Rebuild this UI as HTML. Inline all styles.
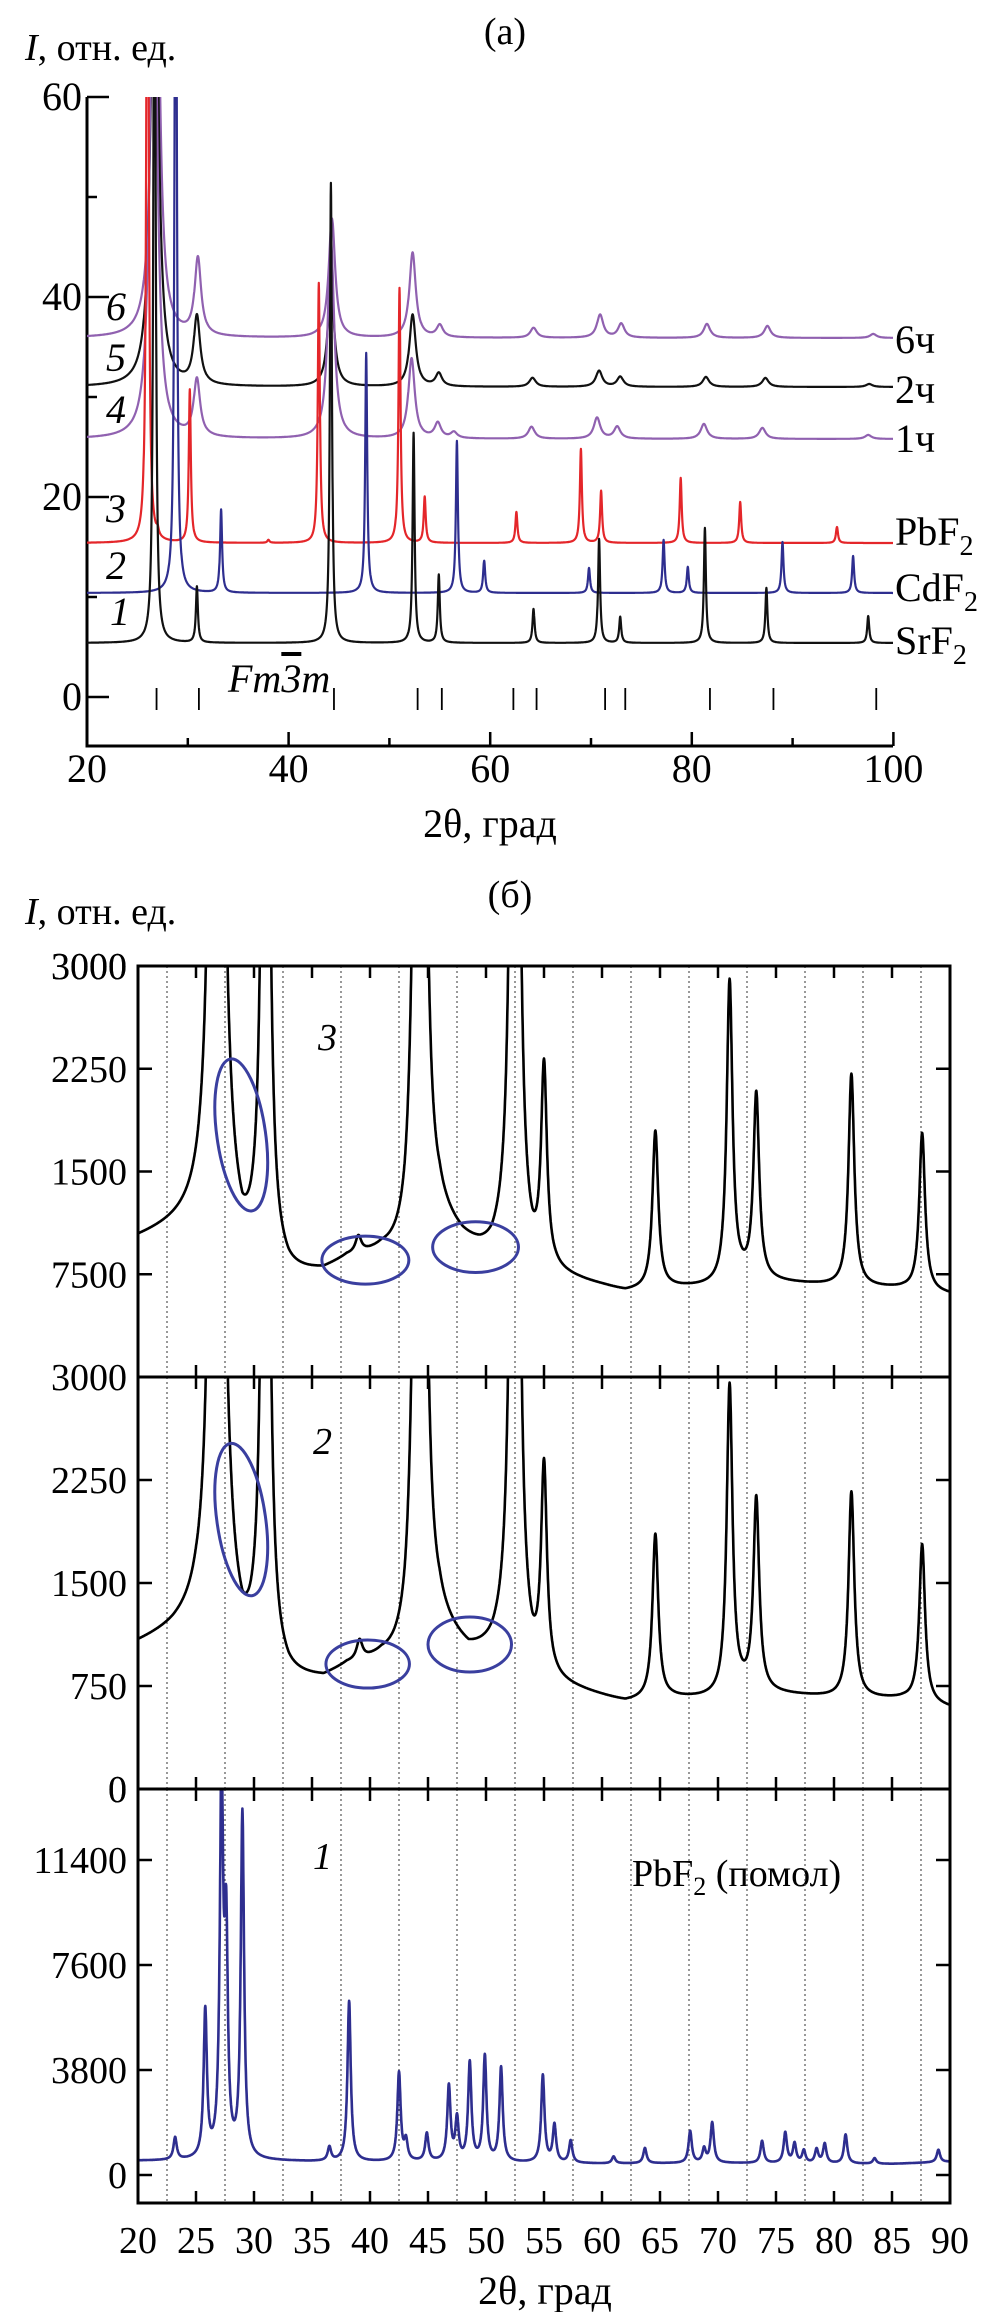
<!DOCTYPE html>
<html><head><meta charset="utf-8"><style>
html,body{margin:0;padding:0;background:#fff;}
svg{display:block;}
text{font-family:"Liberation Serif",serif;fill:#000;}
</style></head><body>
<svg id="svg" width="1004" height="2312" viewBox="0 0 1004 2312" xmlns="http://www.w3.org/2000/svg">
<defs>
<clipPath id="clipA"><rect x="87" y="97" width="806" height="649"/></clipPath>
<clipPath id="clipB3"><rect x="138" y="966" width="812" height="411"/></clipPath>
<clipPath id="clipB2"><rect x="138" y="1377" width="812" height="412"/></clipPath>
<clipPath id="clipB1"><rect x="138" y="1789" width="812" height="414"/></clipPath>
</defs>
<g id="panelA">
<text x="505" y="44" font-size="38" text-anchor="middle">(a)</text>
<text x="25" y="60" font-size="38"><tspan font-style="italic">I</tspan>, отн. ед.</text>
<text x="490" y="837" font-size="40" text-anchor="middle">2θ, град</text>
<text x="228" y="692" font-size="40" font-style="italic">Fm<tspan text-decoration="overline">3</tspan>m</text>
<g font-size="40">
<text x="895" y="353">6ч</text>
<text x="895" y="403">2ч</text>
<text x="895" y="452">1ч</text>
<text x="895" y="545">PbF<tspan font-size="28" dy="10">2</tspan></text>
<text x="895" y="601">CdF<tspan font-size="28" dy="10">2</tspan></text>
<text x="895" y="654">SrF<tspan font-size="28" dy="10">2</tspan></text>
</g>
<g font-size="40" font-style="italic">
<text x="106" y="320">6</text>
<text x="106" y="371">5</text>
<text x="106" y="423">4</text>
<text x="106" y="522">3</text>
<text x="106" y="579">2</text>
<text x="110" y="625">1</text>
</g>
</g>
<g id="panelB">
<text x="510" y="907" font-size="38" text-anchor="middle">(б)</text>
<text x="25" y="924" font-size="38"><tspan font-style="italic">I</tspan>, отн. ед.</text>
<text x="545" y="2304" font-size="40" text-anchor="middle">2θ, град</text>
<text x="318" y="1050" font-size="38" font-style="italic">3</text>
<text x="313" y="1454" font-size="38" font-style="italic">2</text>
<text x="313" y="1869" font-size="38" font-style="italic">1</text>
<text x="632" y="1886" font-size="38">PbF<tspan font-size="26" dy="9">2</tspan><tspan dy="-9"> (помол)</tspan></text>
</g>
</svg>
<script>
const NS='http://www.w3.org/2000/svg';
const svg=document.getElementById('svg');
// ---------- Panel (a) data ----------
const aYTicks=[0,20,40,60];
const aXTicks=[20,40,60,80,100];
const aSeriesNames=['SrF2','CdF2','PbF2','1h','2h','6h'];
const aBaselines=[5.4,10.4,15.4,25.8,31.0,35.9];
const aWidths=[0.12,0.12,0.12,0.38,0.38,0.38];
const aColors=['#111','#2e2e8f','#e4262a','#9061b0','#111','#9061b0'];
const aPosSrF2=[26.7,30.9,44.2,52.4,54.9,64.3,70.8,72.9,81.3,87.4,97.5];
const aHSrF2=[90,5.6,46,21,6.8,3.4,10.4,2.6,11.5,5.5,2.7];
const aPosCdF2=[28.8,33.3,47.7,56.7,59.4,69.8,77.2,79.6,89.0,96.0];
const aHCdF2=[90,8.3,24,15.2,3.2,2.5,5.3,2.6,5.1,3.7];
const aPosPbF2=[26.0,27.0,30.2,38.0,43.0,51.0,53.5,62.6,69.0,71.0,78.9,84.8,94.4];
const aHPbF2=[90,0.6,15.3,0.3,26,25.5,4.6,3.1,9.4,5.2,6.5,4.1,1.6];
const aPos1h=[26.6,30.9,44.2,52.2,54.8,56.4,64.1,70.6,72.6,81.2,87.0,97.5];
const aH1h=[60,5.7,20,8,1.5,0.6,1.2,2.1,1.2,1.5,1.1,0.4];
const aPos2h=[26.7,30.9,44.2,52.3,54.9,64.2,70.8,72.9,81.4,87.3,97.6];
const aH2h=[60,6.8,10,7.2,1.3,0.9,1.6,1.0,1.0,0.9,0.3];
const aPos6h=[26.8,31.0,44.3,52.3,55.0,64.3,70.9,73.0,81.5,87.5,98.0];
const aH6h=[60,7.7,11.9,8.5,1.2,1.0,2.3,1.4,1.4,1.2,0.4];
const aRefTicks=[26.9,31.1,44.5,52.8,55.2,62.3,64.6,71.4,73.4,81.8,88.1,98.3];
// ---------- Panel (б) data ----------
const bXTicks=[20,25,30,35,40,45,50,55,60,65,70,75,80,85,90];
const bGrid=[22.5,27.5,32.5,37.5,42.5,47.5,52.5,57.5,62.5,67.5,72.5,77.5,82.5,87.5];
const bTopTicks=[750,1500,2250,3000];
const bTopTickLabels=['7500','1500','2250','3000'];
const bMidTicks=[0,750,1500,2250,3000];
const bMidTickLabels=['0','750','1500','2250','3000'];
const bBotTicks=[0,3800,7600,11400];
const bBotTickLabels=['0','3800','7600','11400'];
const b3BgX=[20,24,26,28,29,30,33,36,38,41,43,45,46,48,49.5,50.5,52,54,56,60,62,66,70,72,76,80,86,90];
const b3BgY=[1000,1100,1150,1000,800,800,700,740,830,860,800,1000,1090,950,880,850,900,710,720,650,610,640,650,700,680,660,640,600];
const b3PeakPos=[26.8,31.0,39.0,44.3,52.5,55.0,64.6,71.0,73.3,81.5,87.6];
const b3PeakH=[20000,8000,120,15000,10000,1450,1150,2200,1350,1550,1150];
const b2BgX=[20,23,25,28,29,30,33,36,38,41,43,45,46,48.5,50.5,52,54,56,60,62,66,70,72,76,80,86,90];
const b2BgY=[1045,1130,1200,1100,900,880,760,770,860,900,850,1050,1120,950,950,1000,760,740,660,620,650,650,700,680,660,650,590];
const b2PeakPos=[26.8,31.0,39.1,44.3,52.5,55.0,64.6,71.0,73.3,81.5,87.6];
const b2PeakH=[20000,8000,140,15000,10000,1500,1200,2250,1400,1500,1150];
const b1BgX=[20,30,35,45,60,70,85,90];
const b1BgY=[510,510,480,470,410,430,400,480];
const b1PeakPos=[23.2,25.8,27.2,27.6,29.0,36.5,38.2,42.5,43.1,44.9,46.8,47.5,48.6,49.9,51.3,54.9,55.9,57.3,61.0,63.7,67.6,68.8,69.5,73.8,75.8,76.6,77.4,78.5,79.2,81.0,83.5,89.0];
const b1PeakH=[800,5300,13800,7600,12500,500,5800,3200,700,1000,2700,1500,3550,3800,3400,3150,1350,800,250,550,1150,500,1450,800,1100,700,450,500,700,1050,200,450];
// ---------- Helpers ----------
function el(tag,attrs,parent){const e=document.createElementNS(NS,tag);for(const k in attrs)e.setAttribute(k,attrs[k]);(parent||svg).appendChild(e);return e;}
function lor(x,pos,h,w){let s=0;for(let i=0;i<pos.length;i++){const d=x-pos[i];s+=h[i]*w*w/(d*d+w*w);}return s;}
function interp(x,xs,ys){if(x<=xs[0])return ys[0];for(let i=1;i<xs.length;i++){if(x<=xs[i]){const t=(x-xs[i-1])/(xs[i]-xs[i-1]);return ys[i-1]+t*(ys[i]-ys[i-1]);}}return ys[ys.length-1];}
// ---------- Panel (a) ----------
const aX=d=>87+(d-20)*10.08;
const aY=v=>697-v*10.0;
const gA=document.getElementById('panelA');
let ln=el('line',{x1:87,y1:97,x2:87,y2:746,stroke:'#000','stroke-width':3},gA);


ln=el('line',{x1:85.5,y1:746,x2:893,y2:746,stroke:'#000','stroke-width':3},gA);


for(let v=0;v<=60;v+=10){const major=aYTicks.includes(v);const t=el('line',{x1:87,y1:aY(v),x2:87+(major?22:10),y2:aY(v),stroke:'#000','stroke-width':2.5},gA);

}
aYTicks.forEach(v=>{const t=el('text',{x:82,y:aY(v)+13,'font-size':40,'text-anchor':'end'},gA);t.textContent=v;

});
for(let d=20;d<=100;d+=10){const major=aXTicks.includes(d);const t=el('line',{x1:aX(d),y1:746,x2:aX(d),y2:746-(major?14:8),stroke:'#000','stroke-width':2.5},gA);

}
aXTicks.forEach(d=>{const t=el('text',{x:aX(d),y:782,'font-size':40,'text-anchor':'middle'},gA);t.textContent=d;

});
aRefTicks.forEach(d=>{const t=el('line',{x1:aX(d),y1:688,x2:aX(d),y2:710,stroke:'#000','stroke-width':1.8},gA);

});
const aPos=[aPosSrF2,aPosCdF2,aPosPbF2,aPos1h,aPos2h,aPos6h];
const aH=[aHSrF2,aHCdF2,aHPbF2,aH1h,aH2h,aH6h];
const aOrder=[5,4,3,2,1,0];
const aGC=el('g',{'clip-path':'url(#clipA)'},gA);
aOrder.forEach(i=>{let dstr='';for(let x=20;x<=100.001;x+=0.02){const v=aBaselines[i]+lor(x,aPos[i],aH[i],aWidths[i]);dstr+=(dstr?'L':'M')+aX(x).toFixed(1)+','+Math.max(aY(v),0).toFixed(1);}
const p=el('path',{d:dstr,fill:'none',stroke:aColors[i],'stroke-width':2.2,'stroke-linejoin':'round'},aGC);

});
// ---------- Panel (б) ----------
const gB=document.getElementById('panelB');
const bX=d=>138+(d-20)*(812/70);
const panels=[
 {top:966,bot:1377,max:3000,ticks:bTopTicks,labels:bTopTickLabels,bx:b3BgX,by:b3BgY,pp:b3PeakPos,ph:b3PeakH,w:0.3,color:'#000',clip:'clipB3',name:'curve-3',
  ell:[[28.9,1767,2.1,560,-8],[39.6,853,3.75,175,0],[49.1,948,3.7,185,0]]},
 {top:1377,bot:1789,max:3000,ticks:bMidTicks,labels:bMidTickLabels,bx:b2BgX,by:b2BgY,pp:b2PeakPos,ph:b2PeakH,w:0.3,color:'#000',clip:'clipB2',name:'curve-2',
  ell:[[28.9,1962,2.1,560,-8],[39.8,910,3.6,175,0],[48.6,1052,3.6,200,0]]},
 {top:1789,bot:2203,max:14100,ticks:bBotTicks,labels:bBotTickLabels,bx:b1BgX,by:b1BgY,pp:b1PeakPos,ph:b1PeakH,w:0.17,color:'#2e2e8f',clip:'clipB1',name:'curve-1-pbf2-milled',ell:[]}
];
panels.forEach((P,pi)=>{
 const zeroY=pi===2?2175:P.bot;
 const sc=pi===2?(2175-2070)/3800:(P.bot-P.top)/P.max;
 const Y=v=>zeroY-v*sc;
 bGrid.forEach(d=>{const g=el('line',{x1:bX(d),y1:P.top,x2:bX(d),y2:P.bot,stroke:'#555','stroke-width':1.2,'stroke-dasharray':'2,3'},gB);
 
 });
 let dstr='';for(let x=20;x<=90.001;x+=0.02){const v=interp(x,P.bx,P.by)+lor(x,P.pp,P.ph,P.w);dstr+=(dstr?'L':'M')+bX(x).toFixed(1)+','+Math.max(Y(v),P.top-20).toFixed(1);}
 const gc=el('g',{'clip-path':'url(#'+P.clip+')'},gB);
 const p=el('path',{d:dstr,fill:'none',stroke:P.color,'stroke-width':2.6,'stroke-linejoin':'round'},gc);
 
 
 P.ell.forEach(e=>{const cx=bX(e[0]),cy=Y(e[1]),rx=e[2]*812/70,ry=e[3]*sc;
  const o=el('ellipse',{cx:cx,cy:cy,rx:rx,ry:ry,fill:'none',stroke:'#3a3f9f','stroke-width':3,transform:'rotate('+e[4]+' '+cx+' '+cy+')'},gB);
  
  });
 const r=el('rect',{x:138,y:P.top,width:812,height:P.bot-P.top,fill:'none',stroke:'#000','stroke-width':3},gB);
 
 
 P.ticks.forEach((v,i)=>{const yy=Y(v);
  const t1=el('line',{x1:138,y1:yy,x2:152,y2:yy,stroke:'#000','stroke-width':2.5},gB);
  
  
  const t2=el('line',{x1:936,y1:yy,x2:950,y2:yy,stroke:'#000','stroke-width':2.5},gB);
  
  
  const tl=el('text',{x:127,y:yy+13,'font-size':38,'text-anchor':'end'},gB);tl.textContent=P.labels[i];
  
  });
 bXTicks.forEach(d=>{const t=el('line',{x1:bX(d),y1:P.bot,x2:bX(d),y2:P.bot-12,stroke:'#000','stroke-width':2.5},gB);
 
 
 const t2=el('line',{x1:bX(d),y1:P.top,x2:bX(d),y2:P.top+12,stroke:'#000','stroke-width':2.5},gB);
 
 });
});
let zl=el('text',{x:127,y:979,'font-size':38,'text-anchor':'end'},gB);zl.textContent='3000';


zl=el('text',{x:127,y:1802,'font-size':38,'text-anchor':'end'},gB);zl.textContent='0';


bXTicks.forEach(d=>{const t=el('text',{x:bX(d),y:2253,'font-size':38,'text-anchor':'middle'},gB);t.textContent=d;

});
</script>
</body></html>
